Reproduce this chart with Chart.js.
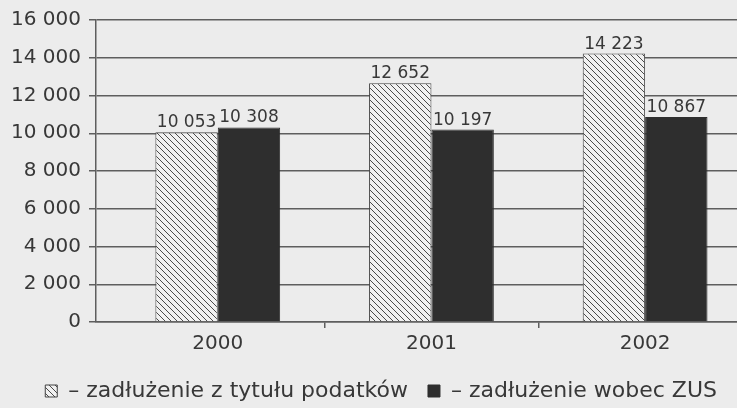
<!DOCTYPE html>
<html><head><meta charset="utf-8">
<script src="https://cdn.jsdelivr.net/npm/chart.js@4.4.1/dist/chart.umd.min.js"></script>
<style>html,body{margin:0;padding:0;background:#ececec;overflow:hidden}#wrap{width:737px;height:408px;position:relative}</style>
</head><body><div id="wrap"><canvas id="c"></canvas></div>
<script>
// ---- data ----
const years = ['2000', '2001', '2002'];
const taxDebt = [10053, 12652, 14223];
const zusDebt = [10308, 10197, 10867];
const seriesNames = ['zadłużenie z tytułu podatków', 'zadłużenie wobec ZUS'];
const yMin = 0, yMax = 16000, yStep = 2000;

const INK = '#383838';
const LINE = '#5e5e5e';
const FONT = '"DejaVu Sans", Verdana, sans-serif';

function fmt(v) { return String(v).replace(/\B(?=(\d{3})+(?!\d))/g, ' '); }

function hatch() {
  const s = 6, c = document.createElement('canvas');
  c.width = s; c.height = s;
  const x = c.getContext('2d');
  x.fillStyle = '#f1f1f1'; x.fillRect(0, 0, s, s);
  x.strokeStyle = '#4a4a4a'; x.lineWidth = 1;
  x.beginPath();
  x.moveTo(-1, -1); x.lineTo(s + 1, s + 1);
  x.moveTo(-1, s - 1); x.lineTo(1, s + 1);
  x.moveTo(s - 1, -1); x.lineTo(s + 1, 1);
  x.stroke();
  return x.createPattern(c, 'repeat');
}

const valueLabels = {
  id: 'valueLabels',
  afterDatasetsDraw(chart) {
    const ctx = chart.ctx;
    ctx.save();
    ctx.font = '17px ' + FONT;
    ctx.fillStyle = INK;
    ctx.textAlign = 'center';
    ctx.textBaseline = 'alphabetic';
    chart.data.datasets.forEach((ds, i) => {
      chart.getDatasetMeta(i).data.forEach((el, j) => {
        ctx.fillText(fmt(ds.data[j].y), el.x, el.y - 5);
      });
    });
    ctx.restore();
  }
};

new Chart(document.getElementById('c'), {
  type: 'bar',
  data: {
    datasets: [
      { label: seriesNames[0], data: taxDebt.map((v, i) => ({ x: i, y: v })),
        backgroundColor: hatch(), borderColor: '#444', borderWidth: 1 },
      { label: seriesNames[1], data: zusDebt.map((v, i) => ({ x: i, y: v })),
        backgroundColor: '#2e2e2e', borderColor: '#2e2e2e', borderWidth: 1 }
    ]
  },
  options: {
    responsive: true, maintainAspectRatio: false, animation: false,
    datasets: { bar: { barPercentage: 1, categoryPercentage: 0.584 } },
    layout: { padding: { left: 3, right: 0, top: 8, bottom: -4 } },
    scales: {
      x: {
        type: 'linear', min: -0.57, max: 2.43, offset: false,
        afterBuildTicks(scale) { scale.ticks = years.map((y, i) => ({ value: i })); },
        ticks: { autoSkip: false, maxRotation: 0, padding: 4, color: INK, font: { family: FONT, size: 20 },
          callback: v => years[v] },
        grid: { offset: true, drawOnChartArea: false, tickLength: 6, lineWidth: 1.5,
          color: c => c.index === 0 ? 'rgba(0,0,0,0)' : LINE },
        border: { display: true, color: LINE, width: 1.5 }
      },
      y: {
        min: yMin, max: yMax,
        ticks: { stepSize: yStep, padding: 8, color: INK, font: { family: FONT, size: 20 }, callback: v => fmt(v) },
        grid: { color: LINE, lineWidth: 1.5, tickLength: 7 },
        border: { color: LINE, width: 1.5 }
      }
    },
    plugins: {
      tooltip: { enabled: false },
      legend: {
        position: 'bottom', align: 'end',
        labels: {
          color: INK, font: { family: FONT, size: 22 }, boxWidth: 12, boxHeight: 12, padding: 20,
          generateLabels(chart) {
            return Chart.defaults.plugins.legend.labels.generateLabels(chart).map(it => ({ ...it, text: '– ' + it.text }));
          }
        }
      }
    }
  },
  plugins: [valueLabels]
});
</script></body></html>
